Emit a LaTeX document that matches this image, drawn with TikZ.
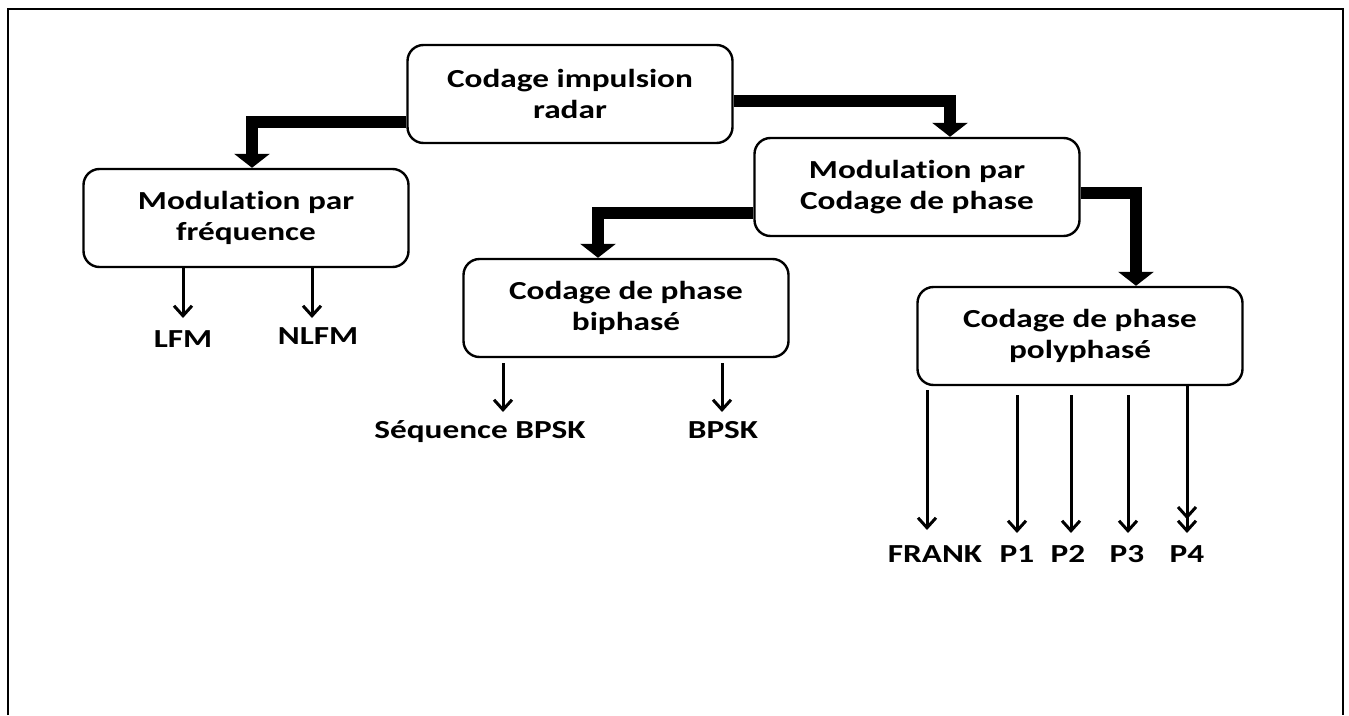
\documentclass[tikz,border=0pt]{standalone}
\usepackage{fontspec}
\setmainfont{Carlito}[FakeStretch=1.28,Ligatures=NoCommon]
\usetikzlibrary{arrows.meta}
\begin{document}
\begin{tikzpicture}[x=1pt,y=-1pt,
  box/.style={draw,line width=2.4pt,rounded corners=16pt,align=center,
    font=\fontsize{26}{31}\selectfont\bfseries,
    minimum width=325pt,minimum height=98pt,inner sep=0pt},
  big/.style={line width=12.5pt,line join=miter,-{Triangle[width=35pt,length=14pt]}},
  thinarr/.style={line width=3pt,-{Straight Barb[width=18pt,length=10pt]}},
  dblarr/.style={line width=3pt,-{Straight Barb[width=18pt,length=10pt]Straight Barb[width=18pt,length=10pt]}},
  leaf/.style={font=\fontsize{26}{31}\selectfont\bfseries,inner sep=0pt,anchor=base}]
\useasboundingbox (0,0) rectangle (1349,715);
\fill[white] (0,0) rectangle (1349,715);
% frame
\draw[line width=2.5pt] (8,715) -- (8,9) -- (1343,9) -- (1343,715);

% boxes
\node[box] (top)  at (570,94)  {Codage impulsion\\radar};
\node[box] (freq) at (246,218) {Modulation par\\fréquence};
\node[box] (mod)  at (917,187) {Modulation par\\Codage de phase};
\node[box] (bi)   at (626,308) {Codage de phase\\biphasé};
\node[box] (poly) at (1080,336) {Codage de phase\\polyphasé};

% thick arrows
\draw[big] ([yshift=-28pt]top.west) -| ([xshift=6pt]freq.north);
\draw[big] ([yshift=-7pt]top.east) -| ([xshift=33pt]mod.north);
\draw[big] ([yshift=-26pt]mod.west) -| ([xshift=-28pt]bi.north);
\draw[big] ([yshift=-6pt]mod.east) -| ([xshift=56pt]poly.north);

% leaves
\node[leaf] (lfm)   at (183,347) {LFM};
\node[leaf] (nlfm)  at (318,344) {NLFM};
\node[leaf] (seq)   at (480,438) {Séquence BPSK};
\node[leaf] (bpsk)  at (723,438) {BPSK};
\node[leaf] (frank) at (935,562) {FRANK};
\node[leaf] (p1)    at (1017,562) {P1};
\node[leaf] (p2)    at (1068,562) {P2};
\node[leaf] (p3)    at (1127,562) {P3};
\node[leaf] (p4)    at (1187,562) {P4};

\coordinate (elfm)   at (183,318);
\coordinate (enlfm)  at (312,318);
\coordinate (eseq)   at (503,412);
\coordinate (ebpsk)  at (722,412);
\coordinate (efrank) at (927,530);
\coordinate (ep1)    at (1017,533);
\coordinate (ep2)    at (1071,533);
\coordinate (ep3)    at (1128,533);
\coordinate (ep4)    at (1187,533);

\draw[thinarr] (freq.south -| elfm) -- (elfm);
\draw[thinarr] (freq.south -| enlfm) -- (enlfm);
\draw[thinarr,shorten <=5pt] (bi.south -| eseq) -- (eseq);
\draw[thinarr,shorten <=5pt] (bi.south -| ebpsk) -- (ebpsk);
\draw[thinarr,shorten <=4pt] (poly.south -| efrank) -- (efrank);
\draw[thinarr,shorten <=9pt] (poly.south -| ep1) -- (ep1);
\draw[thinarr,shorten <=9pt] (poly.south -| ep2) -- (ep2);
\draw[thinarr,shorten <=9pt] (poly.south -| ep3) -- (ep3);
\draw[dblarr] (poly.south -| ep4) -- (ep4);
\end{tikzpicture}
\end{document}
